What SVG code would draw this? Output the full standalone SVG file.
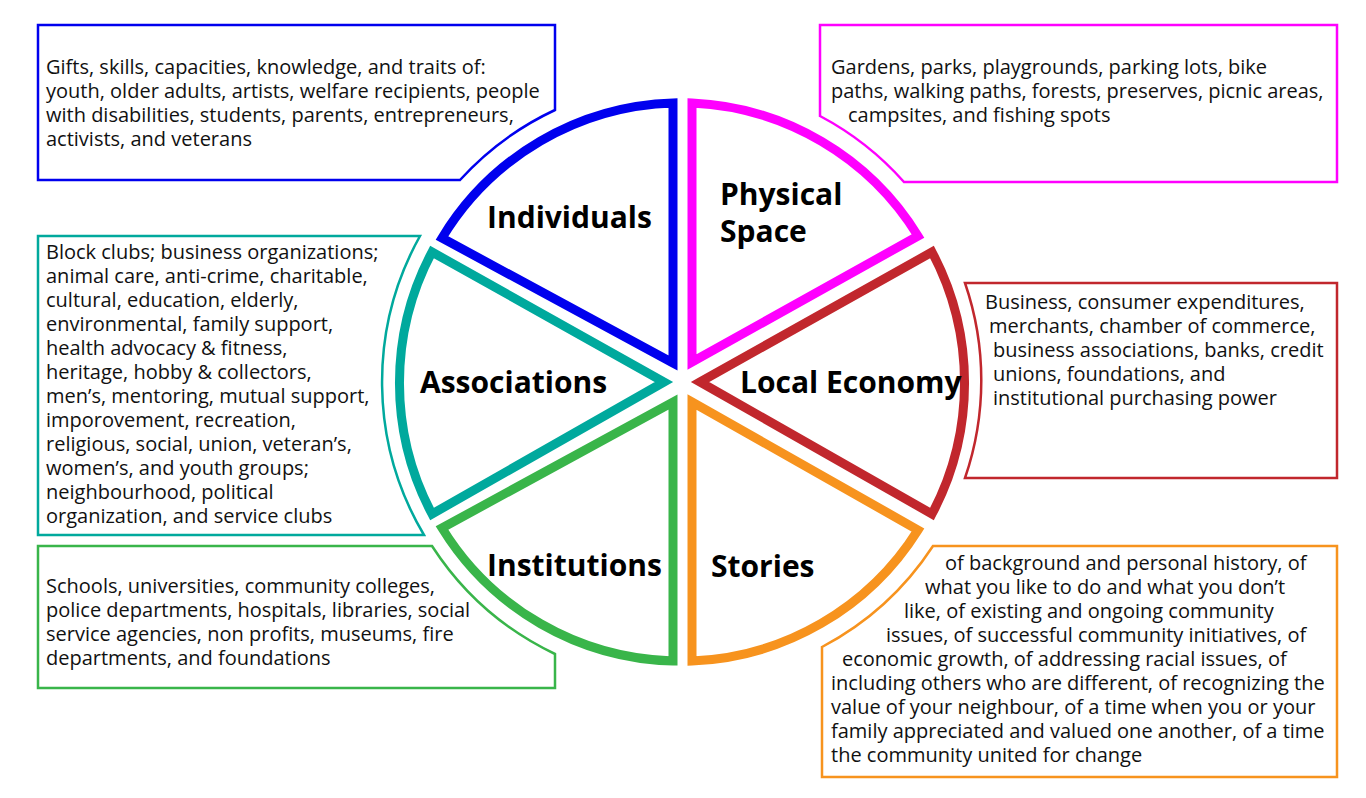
<svg xmlns="http://www.w3.org/2000/svg" width="1366" height="798" viewBox="0 0 1366 798">
<style>
.w{fill:#fff;stroke-width:9;stroke-linejoin:miter}
.b{fill:#fff;stroke-width:2.5}
.t{font-family:"Open Sans","DejaVu Sans",sans-serif;font-size:20px;fill:#111}
.l{font-family:"Open Sans","DejaVu Sans",sans-serif;font-size:30px;font-weight:bold;fill:#000}
</style>
<rect width="1366" height="798" fill="#fff"/>
<g id="connectors">
<path class="b" stroke="#0000ee" d="M38,25 H555 V110 A300 300 0 0 0 460,180 H38 Z"/>
<path class="b" stroke="#ff00ff" d="M820,25 H1337 V182 H904 A300 300 0 0 0 820,116 Z"/>
<path class="b" stroke="#c1272d" d="M965,283 H1337 V478 H965 A300 300 0 0 0 965,283 Z"/>
<path class="b" stroke="#f7931e" d="M933,546 H1337 V777 H822 V647 A300 300 0 0 0 933,546 Z"/>
<path class="b" stroke="#39b54a" d="M38,546 H432 A300 300 0 0 0 555,654 V688 H38 Z"/>
<path class="b" stroke="#00a99d" d="M38,236 H420 A300 300 0 0 0 424,535 H38 Z"/>
</g>
<g id="individuals"><path class="w" stroke="#0000ee" d="M673,363 L442,238 A280 280 0 0 1 673,103 Z"/><text class="l" x="487" y="228">Individuals</text>
<text class="t"><tspan x="46" y="74">Gifts, skills, capacities, knowledge, and traits of:</tspan><tspan x="46" y="98">youth, older adults, artists, welfare recipients, people</tspan><tspan x="46" y="122">with disabilities, students, parents, entrepreneurs,</tspan><tspan x="46" y="146">activists, and veterans</tspan></text></g>
<g id="physical-space"><path class="w" stroke="#ff00ff" d="M692,362 L692,103 A280 280 0 0 1 918,236 Z"/><text class="l"><tspan x="720" y="205">Physical</tspan><tspan x="720" y="242">Space</tspan></text>
<text class="t"><tspan x="831" y="74">Gardens, parks, playgrounds, parking lots, bike</tspan><tspan x="831" y="98">paths, walking paths, forests, preserves, picnic areas,</tspan><tspan x="848" y="122">campsites, and fishing spots</tspan></text></g>
<g id="local-economy"><path class="w" stroke="#c1272d" d="M700,382 L932,252 A280 280 0 0 1 932,514 Z"/><text class="l" x="740" y="393">Local Economy</text>
<text class="t"><tspan x="985" y="309">Business, consumer expenditures,</tspan><tspan x="989" y="333">merchants, chamber of commerce,</tspan><tspan x="993" y="357">business associations, banks, credit</tspan><tspan x="993" y="381">unions, foundations, and</tspan><tspan x="993" y="405">institutional purchasing power</tspan></text></g>
<g id="stories"><path class="w" stroke="#f7931e" d="M692,402 L918,530 A280 280 0 0 1 692,661 Z"/><text class="l" x="711" y="577">Stories</text>
<text class="t"><tspan x="945" y="570">of background and personal history, of</tspan><tspan x="925" y="594">what you like to do and what you don’t</tspan><tspan x="904" y="618">like, of existing and ongoing community</tspan><tspan x="886" y="642">issues, of successful community initiatives, of</tspan><tspan x="842" y="666">economic growth, of addressing racial issues, of</tspan><tspan x="831" y="690">including others who are different, of recognizing the</tspan><tspan x="831" y="714">value of your neighbour, of a time when you or your</tspan><tspan x="831" y="738">family appreciated and valued one another, of a time</tspan><tspan x="831" y="762">the community united for change</tspan></text></g>
<g id="institutions"><path class="w" stroke="#39b54a" d="M673,402 L673,661 A280 280 0 0 1 442,528 Z"/><text class="l" x="487" y="576">Institutions</text>
<text class="t"><tspan x="46" y="593">Schools, universities, community colleges,</tspan><tspan x="46" y="617">police departments, hospitals, libraries, social</tspan><tspan x="46" y="641">service agencies, non profits, museums, fire</tspan><tspan x="46" y="665">departments, and foundations</tspan></text></g>
<g id="associations"><path class="w" stroke="#00a99d" d="M664,382 L432,514 A280 280 0 0 1 432,252 Z"/><text class="l" x="420" y="393">Associations</text>
<text class="t"><tspan x="46" y="259">Block clubs; business organizations;</tspan><tspan x="46" y="283">animal care, anti-crime, charitable,</tspan><tspan x="46" y="307">cultural, education, elderly,</tspan><tspan x="46" y="331">environmental, family support,</tspan><tspan x="46" y="355">health advocacy &amp; fitness,</tspan><tspan x="46" y="379">heritage, hobby &amp; collectors,</tspan><tspan x="46" y="403">men’s, mentoring, mutual support,</tspan><tspan x="46" y="427">imporovement, recreation,</tspan><tspan x="46" y="451">religious, social, union, veteran’s,</tspan><tspan x="46" y="475">women’s, and youth groups;</tspan><tspan x="46" y="499">neighbourhood, political</tspan><tspan x="46" y="523">organization, and service clubs</tspan></text></g>
</svg>
